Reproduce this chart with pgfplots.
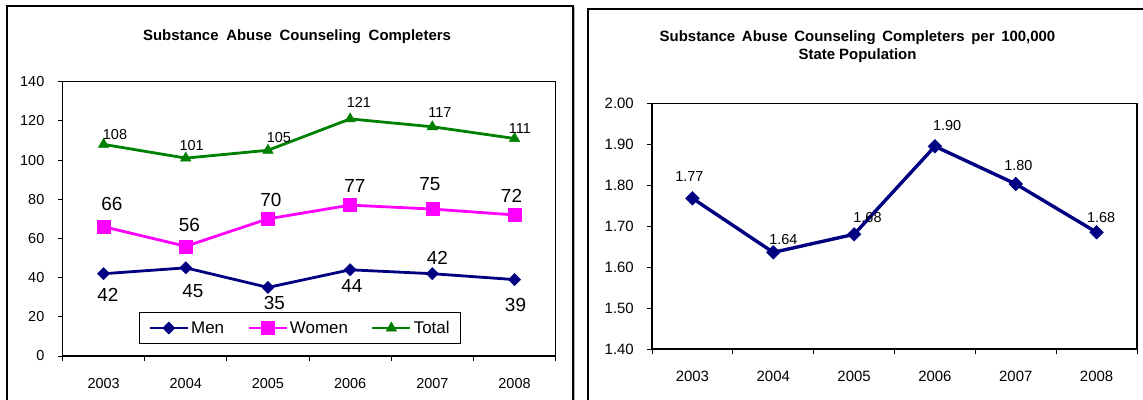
\documentclass[border=0pt]{standalone}
\usepackage{fontspec}
\setmainfont{Liberation Sans}
\usepackage{pgfplots}
\usepackage{pgfplotstable}
\pgfplotsset{compat=1.18}
\definecolor{navyc}{RGB}{0,0,128}
\definecolor{magc}{RGB}{255,0,255}
\definecolor{grnc}{RGB}{0,128,0}

\pgfplotstableread{
x y lab lx ly
0 42 42 4.4 -21.3
1 45 45 7.2 -23.2
2 35 35 6.5 -15.9
3 44 44 1.8 -16.2
4 42 42 5.1 16.0
5 39 39 1.0 -25.4
}\men
\pgfplotstableread{
x y lab lx ly
0 66 66 8.4 22.4
1 56 56 3.7 21.0
2 70 70 3.0 18.9
3 77 77 4.8 19.2
4 75 75 -2.4 24.8
5 72 72 -3.0 18.9
}\women
\pgfplotstableread{
x y lab lx ly
0 108 108 11.4 9.9
1 101 101 5.8 12.6
2 105 105 11.0 12.6
3 121 121 8.8 16.2
4 117 117 7.6 14.1
5 111 111 5.4 10.3
}\total
\pgfplotstableread{
x y lab lx ly
0 1.768 1.77 -3.0 21.6
1 1.636 1.64 10.1 12.4
2 1.680 1.68 13.4 16.6
3 1.895 1.90 12.3 20.3
4 1.803 1.80 2.6 18.3
5 1.685 1.68 4.5 14.6
}\rate

\newcommand\wsa{\hspace{7.7bp}}
\newcommand\wsb{\hspace{6.7bp}}

\pgfplotsset{
  common/.style={
    scale only axis, anchor=south west,
    xmin=-0.5, xmax=5.5,
    xtick={-0.5,0.5,1.5,2.5,3.5,4.5,5.5},
    x tick label as interval,
    xticklabels={2003,2004,2005,2006,2007,2008},
    tick align=outside, major tick length=5bp,
    xtick pos=bottom, ytick pos=left,
    axis line style={black, line width=1.1bp},
    tick style={black, line width=0.9bp},
    /pgf/number format/assume math mode=true,
    xticklabel style={inner sep=0pt, anchor=north, yshift=-17bp},
    yticklabel style={inner sep=0pt, anchor=east, xshift=-13bp},
    clip=false,
  },
  lab/.style={
    point meta=explicit symbolic,
    nodes near coords,
    visualization depends on={\thisrow{lx}\as\lx},
    visualization depends on={\thisrow{ly}\as\ly},
    nodes near coords style={anchor=center, inner sep=0pt, text=black,
      xshift=\lx bp, yshift=\ly bp, font=#1},
  },
}

\begin{document}
\begin{tikzpicture}
\useasboundingbox (0,0) rectangle (1143bp,400bp);
\draw[black!30, line width=1bp] (574.6bp,-2bp) -- (574.6bp,393bp);
\draw[black, line width=1.2bp] (7bp,-2bp) -- (7bp,394bp) -- (573bp,394bp) -- (573bp,-2bp);
\draw[black, line width=1.2bp] (588bp,-2bp) -- (588bp,391bp) -- (1150bp,391bp);

\node[anchor=base, font=\bfseries\fontsize{15}{18}\selectfont] at (297bp,359.6bp)
  {Substance\wsa Abuse\wsa Counseling\wsa Completers};
\node[anchor=base, font=\bfseries\fontsize{15}{18}\selectfont] at (857.5bp,358bp)
  {Substance\wsb Abuse\wsb Counseling\wsb Completers\wsb per\wsb 100,000};
\node[anchor=base, font=\bfseries\fontsize{15}{18}\selectfont] at (857.5bp,340.3bp)
  {State Population};

\begin{axis}[common,
  at={(62.5bp,44bp)}, width=493.1bp, height=274.3bp,
  ymin=0, ymax=140, ytick={0,20,...,140},
  ticklabel style={font=\fontsize{14.5}{17}\selectfont},
  legend style={at={(0.4816,0.102)}, anchor=center, draw=black, line width=1bp,
    font=\fontsize{17}{20}\selectfont, legend columns=3,
    /tikz/every even column/.append style={column sep=21bp},
    inner xsep=9bp, inner ysep=6.5bp},
  legend image code/.code={\draw[mark repeat=2,mark phase=2,#1] plot coordinates {(0bp,0bp)(19bp,0bp)(38bp,0bp)};},
]
\addplot[navyc, line width=2.8bp, mark=square*, mark size=4.3bp,
  mark options={rotate=45, fill=navyc, draw=navyc, line width=0.5bp},
  lab=\fontsize{19}{22}\selectfont] table[x=x,y=y,meta=lab]{\men};
\addlegendentry{Men}
\addplot[magc, line width=2.8bp, mark=square*, mark size=6.5bp,
  mark options={fill=magc, draw=magc, line width=0.5bp},
  lab=\fontsize{19}{22}\selectfont] table[x=x,y=y,meta=lab]{\women};
\addlegendentry{Women}
\addplot[grnc, line width=2.8bp, mark=triangle*, mark size=6bp,
  mark options={fill=grnc, draw=grnc, line width=0.5bp},
  lab=\fontsize{14.5}{17}\selectfont] table[x=x,y=y,meta=lab]{\total};
\addlegendentry{Total}
\end{axis}

\begin{axis}[common,
  at={(652bp,51bp)}, width=485bp, height=245.7bp,
  ymin=1.4, ymax=2.0, ytick={1.4,1.5,1.6,1.7,1.8,1.9,2.0},
  yticklabel style={/pgf/number format/.cd, fixed, fixed zerofill, precision=2},
  ticklabel style={font=\fontsize{15}{18}\selectfont},
]
\addplot[navyc, line width=3.4bp, mark=square*, mark size=4.8bp,
  mark options={rotate=45, fill=navyc, draw=navyc, line width=0.5bp},
  lab=\fontsize{14.5}{17}\selectfont] table[x=x,y=y,meta=lab]{\rate};
\end{axis}
\end{tikzpicture}
\end{document}
